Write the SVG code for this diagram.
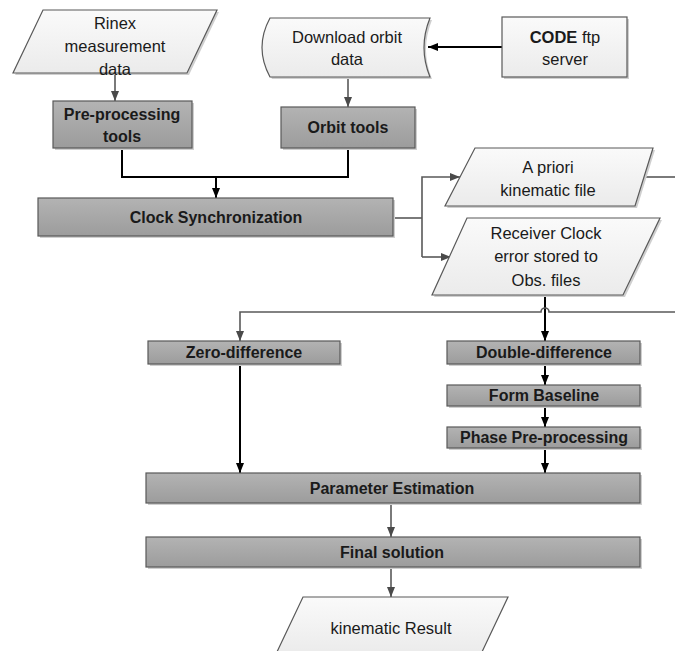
<svg xmlns="http://www.w3.org/2000/svg" width="675" height="651" viewBox="0 0 675 651">
<style>
.dark{fill:url(#gd);stroke:#595959;stroke-width:1.2}
.light{fill:url(#gl);stroke:#595959;stroke-width:1.2}
.sh{fill:#cfcfcf;stroke:none}
.t{font-family:"Liberation Sans",Arial,sans-serif;font-size:16.5px;fill:#1a1a1a;text-anchor:middle}
.b{font-weight:bold;font-size:16px}
.cb{fill:none;stroke:#000;stroke-width:2}
.cg{fill:none;stroke:#595959;stroke-width:1.6}
</style>
<defs>
<linearGradient id="gd" x1="0" y1="0" x2="0" y2="1"><stop offset="0" stop-color="#b3b3b3"/><stop offset="1" stop-color="#9c9c9c"/></linearGradient>
<linearGradient id="gl" x1="0" y1="0" x2="0" y2="1"><stop offset="0" stop-color="#fafafa"/><stop offset="1" stop-color="#ebebeb"/></linearGradient>
<marker id="ab" markerUnits="userSpaceOnUse" markerWidth="10" markerHeight="10" viewBox="0 0 10 10" refX="10" refY="5" orient="auto"><path d="M0,1 L10,5 L0,9 Z" fill="#000"/></marker>
<marker id="ag" markerUnits="userSpaceOnUse" markerWidth="10" markerHeight="10" viewBox="0 0 10 10" refX="10" refY="5" orient="auto"><path d="M0,1 L10,5 L0,9 Z" fill="#4a4a4a"/></marker>
</defs>

<g id="connectors">
<path class="cg" d="M115,73 V101" marker-end="url(#ag)"/>
<path class="cb" d="M122,148 V177 H348 V148"/>
<path class="cb" d="M216,177 V198" marker-end="url(#ab)"/>
<path class="cb" d="M502,47 H428" marker-end="url(#ab)"/>
<path class="cg" d="M348,77 V107" marker-end="url(#ag)"/>
<path class="cg" d="M393,218 H422"/>
<path class="cg" d="M422,257 V177 H460" marker-end="url(#ag)"/>
<path class="cg" d="M422,257 H451" marker-end="url(#ag)"/>
<path class="cg" d="M644,177 H675"/>
<path class="cb" d="M545,295 V341" marker-end="url(#ab)"/>
<path class="cg" d="M675,312 H549 A4,4 0 0 0 541,312 H240 V341" marker-end="url(#ag)"/>
<path class="cb" d="M240,364 V473" marker-end="url(#ab)"/>
<path class="cb" d="M545,364 V385" marker-end="url(#ab)"/>
<path class="cb" d="M545,406 V427" marker-end="url(#ab)"/>
<path class="cb" d="M545,448 V473" marker-end="url(#ab)"/>
<path class="cg" d="M391,503 V537" marker-end="url(#ag)"/>
<path class="cg" d="M391,567 V597" marker-end="url(#ag)"/>
</g>

<g id="rinex">
<path class="sh" d="M45,12 H219 L189,75 H15 Z"/>
<path class="light" d="M43,10 H217 L187,73 H13 Z"/>
<text class="t" x="115" y="29">Rinex</text>
<text class="t" x="115" y="52">measurement</text>
<text class="t" x="115" y="75">data</text>
</g>

<g id="download">
<path class="sh" d="M272,20 L432,20 Q420,49.5 432,79 L272,79 Q256,49.5 272,20 Z"/>
<path class="light" d="M270,18 L430,18 Q418,47.5 430,77 L270,77 Q254,47.5 270,18 Z"/>
<text class="t" x="347" y="43">Download orbit</text>
<text class="t" x="347" y="65">data</text>
</g>

<g id="code">
<rect class="sh" x="504" y="19" width="125" height="60"/>
<rect class="light" x="502" y="17" width="125" height="60"/>
<text class="t" x="565" y="43"><tspan font-weight="bold">CODE</tspan> ftp</text>
<text class="t" x="565" y="65">server</text>
</g>

<g id="preproc">
<rect class="sh" x="55" y="103" width="139" height="47"/>
<rect class="dark" x="53" y="101" width="139" height="47"/>
<text class="t b" x="122" y="120">Pre-processing</text>
<text class="t b" x="122" y="142">tools</text>
</g>

<g id="orbit">
<rect class="sh" x="283" y="109" width="134" height="41"/>
<rect class="dark" x="281" y="107" width="134" height="41"/>
<text class="t b" x="348" y="133">Orbit tools</text>
</g>

<g id="clock">
<rect class="sh" x="40" y="200" width="355" height="38"/>
<rect class="dark" x="38" y="198" width="355" height="38"/>
<text class="t b" x="216" y="223">Clock Synchronization</text>
</g>

<g id="apriori">
<path class="sh" d="M477,150 H655 L637,208 H447 Z"/>
<path class="light" d="M475,148 H653 L635,206 H445 Z"/>
<text class="t" x="548" y="173">A priori</text>
<text class="t" x="548" y="196">kinematic file</text>
</g>

<g id="receiver">
<path class="sh" d="M469,220 H662 L625,297 H434 Z"/>
<path class="light" d="M467,218 H660 L623,295 H432 Z"/>
<text class="t" x="546" y="239">Receiver Clock</text>
<text class="t" x="546" y="262">error stored to</text>
<text class="t" x="546" y="286">Obs. files</text>
</g>

<g id="zerodiff">
<rect class="sh" x="150" y="343" width="192" height="23"/>
<rect class="dark" x="148" y="341" width="192" height="23"/>
<text class="t b" x="244" y="358">Zero-difference</text>
</g>

<g id="doublediff">
<rect class="sh" x="449" y="343" width="193" height="23"/>
<rect class="dark" x="447" y="341" width="193" height="23"/>
<text class="t b" x="544" y="358">Double-difference</text>
</g>

<g id="baseline">
<rect class="sh" x="449" y="387" width="193" height="21"/>
<rect class="dark" x="447" y="385" width="193" height="21"/>
<text class="t b" x="544" y="401">Form Baseline</text>
</g>

<g id="phase">
<rect class="sh" x="449" y="429" width="193" height="21"/>
<rect class="dark" x="447" y="427" width="193" height="21"/>
<text class="t b" x="544" y="443">Phase Pre-processing</text>
</g>

<g id="param">
<rect class="sh" x="148" y="475" width="494" height="30"/>
<rect class="dark" x="146" y="473" width="494" height="30"/>
<text class="t b" x="392" y="494">Parameter Estimation</text>
</g>

<g id="final">
<rect class="sh" x="148" y="539" width="494" height="30"/>
<rect class="dark" x="146" y="537" width="494" height="30"/>
<text class="t b" x="392" y="558">Final solution</text>
</g>

<g id="kinematic">
<path class="light" d="M303,597 H508 L481,654 H276 Z"/>
<text class="t" x="391" y="634">kinematic Result</text>
</g>
</svg>
